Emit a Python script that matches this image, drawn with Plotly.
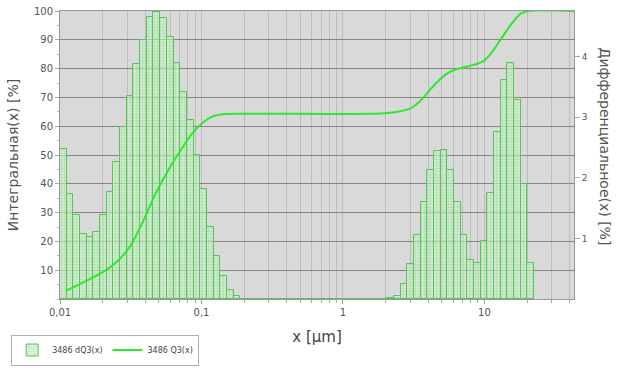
import numpy as np
import plotly.graph_objects as go

# Size classes: log-uniform bins starting at 0.01 µm
first_edge = 0.01
log_step = 0.0472
# differential distribution dQ3 per class [%]
dq3 = [2.47, 1.73, 1.38, 1.08, 1.02, 1.11, 1.38, 1.76, 2.26, 2.83,
       3.34, 3.88, 4.28, 4.65, 4.73, 4.63, 4.32, 3.90, 3.42, 2.95,
       2.38, 1.81, 1.19, 0.71, 0.38, 0.15, 0.05,
       0, 0, 0, 0, 0, 0, 0, 0, 0, 0, 0, 0, 0, 0, 0, 0, 0, 0, 0, 0, 0, 0,
       0.02, 0.05, 0.25, 0.58, 1.05, 1.60, 2.12, 2.44, 2.45, 2.12,
       1.60, 1.05, 0.65, 0.60, 0.95, 1.75, 2.76, 3.61, 3.90, 3.28,
       1.89, 0.60]

# cumulative distribution Q3 [%]
q3_x = [0.011, 0.0152, 0.0200, 0.0247, 0.031, 0.0383, 0.0473, 0.0603, 0.0732,
        0.086, 0.101, 0.119, 0.147, 0.227, 1.86, 2.37, 3.03, 3.56, 4.18, 5.33,
        6.27, 7.99, 9.70, 11.04, 12.97, 15.26, 17.94, 20.4, 42.9]
q3_y = [2.8, 6.2, 9.3, 12.5, 18.0, 26.5, 36.5, 46.0, 52.5,
        57.5, 61.0, 63.3, 64.2, 64.3, 64.4, 64.9, 66.3, 69.0, 73.0, 78.0,
        79.7, 81.0, 82.4, 85.0, 90.0, 95.0, 99.0, 100.0, 100.0]

x_tickvals = [0.01, 0.1, 1, 10]
x_ticktext = ["0,01", "0,1", "1", "10"]
left_ticks = [10, 20, 30, 40, 50, 60, 70, 80, 90, 100]
right_ticks = [1, 2, 3, 4]

n = len(dq3)
lo = first_edge * 10 ** (log_step * np.arange(n))
hi = first_edge * 10 ** (log_step * (np.arange(n) + 1))
centers = (lo + hi) / 2
widths = hi - lo

fig = go.Figure()
fig.add_trace(go.Bar(
    x=centers, y=dq3, width=widths, name="3486 dQ3(x)",
    xaxis="x", yaxis="y",
    marker=dict(
        color="rgba(190,238,190,0.55)",
        line=dict(color="#5cc25c", width=1),
        pattern=dict(shape=".", fgcolor="#78d278", bgcolor="rgba(205,244,205,0.6)",
                     size=3, solidity=0.3),
    ),
))
fig.add_trace(go.Scatter(
    x=q3_x, y=q3_y, mode="lines", name="3486 Q3(x)",
    xaxis="x", yaxis="y2",
    line=dict(color="#2ee82e", width=2, shape="spline", smoothing=0.8),
))

axis_font = dict(family="DejaVu Sans, Verdana, sans-serif", size=10, color="#555")
fig.update_layout(
    width=618, height=376,
    margin=dict(l=57, r=44, t=11, b=75),
    paper_bgcolor="white", plot_bgcolor="#d9d9d9",
    bargap=0, showlegend=True,
    font=dict(family="DejaVu Sans, Verdana, sans-serif"),
    xaxis=dict(
        type="log", range=[-2, 1.633], automargin=False,
        tickmode="array", tickvals=x_tickvals, ticktext=x_ticktext,
        tickfont=axis_font, ticks="outside", ticklen=4, tickcolor="#999",
        showgrid=True, gridcolor="#bcbcbc", gridwidth=1,
        minor=dict(dtick="D1", showgrid=True, gridcolor="#bcbcbc",
                   ticks="outside", ticklen=3, tickcolor="#aaa"),
        showline=True, linecolor="#999", mirror=True, zeroline=False,
        title=dict(text="x [µm]", font=dict(size=15, color="#444"), standoff=14),
    ),
    yaxis=dict(
        side="right", range=[0, 4.75], automargin=False,
        tickmode="array", tickvals=right_ticks,
        tickfont=dict(family="DejaVu Sans, Verdana, sans-serif", size=9, color="#555"),
        ticks="outside", ticklen=5, tickcolor="#aaa",
        showgrid=False, zeroline=False, showline=True, linecolor="#999",
    ),
    yaxis2=dict(
        overlaying="y", side="left", range=[0, 100], automargin=False,
        tickmode="array", tickvals=left_ticks,
        tickfont=axis_font, ticks="outside", ticklen=4, tickcolor="#aaa",
        minor=dict(dtick=5, ticks="outside", ticklen=2, tickcolor="#bbb"),
        showgrid=True, gridcolor="#858585", gridwidth=1,
        zeroline=False, showline=True, linecolor="#999",
        title=dict(text="Интегральная(x) [%]", font=dict(size=14, color="#555"), standoff=12),
    ),
    legend=dict(
        orientation="h", x=-0.095, xanchor="left", y=-0.231, yanchor="bottom",
        bgcolor="white", bordercolor="#b0b0b0", borderwidth=1,
        font=dict(size=8, color="#444"), itemwidth=30, tracegroupgap=0,
    ),
    annotations=[dict(
        text="Дифференциальное(x) [%]", textangle=90,
        xref="paper", yref="paper", x=1.06, y=0.53, xanchor="center", yanchor="middle",
        showarrow=False, font=dict(size=14, color="#555"),
    )],
)

fig.write_html("out.html", post_script="document.body.style.margin='0';",
               config={"displayModeBar": False})
